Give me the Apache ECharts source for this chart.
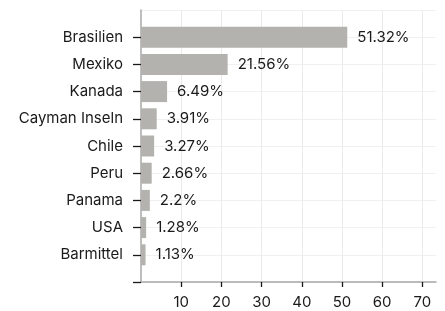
<!DOCTYPE html>
<html>
<head>
<meta charset="utf-8">
<script src="https://cdn.jsdelivr.net/npm/echarts@6/dist/echarts.min.js"></script>
<style>
  html, body { margin: 0; padding: 0; background: #fff; }
  #chart { width: 445px; height: 311px; }
</style>
</head>
<body>
<div id="chart"></div>
<script>
// Länder / Anteile
var categories = ['Brasilien', 'Mexiko', 'Kanada', 'Cayman Inseln', 'Chile', 'Peru', 'Panama', 'USA', 'Barmittel'];
var values = [51.32, 21.56, 6.49, 3.91, 3.27, 2.66, 2.2, 1.28, 1.13];
var labels = ['51.32%', '21.56%', '6.49%', '3.91%', '3.27%', '2.66%', '2.2%', '1.28%', '1.13%'];
var xTicks = [10, 20, 30, 40, 50, 60, 70];

var myChart = echarts.init(document.getElementById('chart'));

// leere Einträge oben und unten, wie im Original
var yCats = [''].concat(categories).concat(['']);
var data = [null].concat(values.map(function (v, i) {
    return { value: v, label: { formatter: labels[i] } };
})).concat([null]);

var option = {
    animation: false,
    textStyle: { fontFamily: 'Inter' },
    grid: { left: 141, right: 9, top: 10, bottom: 29 },
    xAxis: {
        type: 'value',
        min: 0,
        max: 73.4,
        interval: 10,
        axisLine: { show: true, lineStyle: { color: '#a8a8a8', width: 1.5 } },
        axisTick: { show: true, customValues: xTicks, length: 5, lineStyle: { color: '#1a1a1a', width: 1.3 } },
        axisLabel: { customValues: xTicks, color: '#1a1a1a', fontSize: 15, margin: 13 },
        splitLine: { show: true, lineStyle: { color: '#ebebeb', width: 1 } }
    },
    yAxis: {
        type: 'category',
        inverse: true,
        boundaryGap: false,
        data: yCats,
        axisLine: { show: true, lineStyle: { color: '#a8a8a8', width: 1.5 } },
        axisTick: {
            show: true, length: 8,
            interval: function (idx) { return idx !== 0; },
            lineStyle: { color: '#1a1a1a', width: 1.3 }
        },
        axisLabel: { color: '#1a1a1a', fontSize: 15, margin: 18 },
        splitLine: { show: true, lineStyle: { color: '#f0f0f0', width: 1 } }
    },
    series: [{
        type: 'bar',
        data: data,
        barWidth: 21,
        itemStyle: { color: '#b3b2ae' },
        label: {
            show: true,
            position: 'right',
            distance: 10,
            color: '#1a1a1a',
            fontSize: 15
        }
    }]
};

myChart.setOption(option);
</script>
</body>
</html>
